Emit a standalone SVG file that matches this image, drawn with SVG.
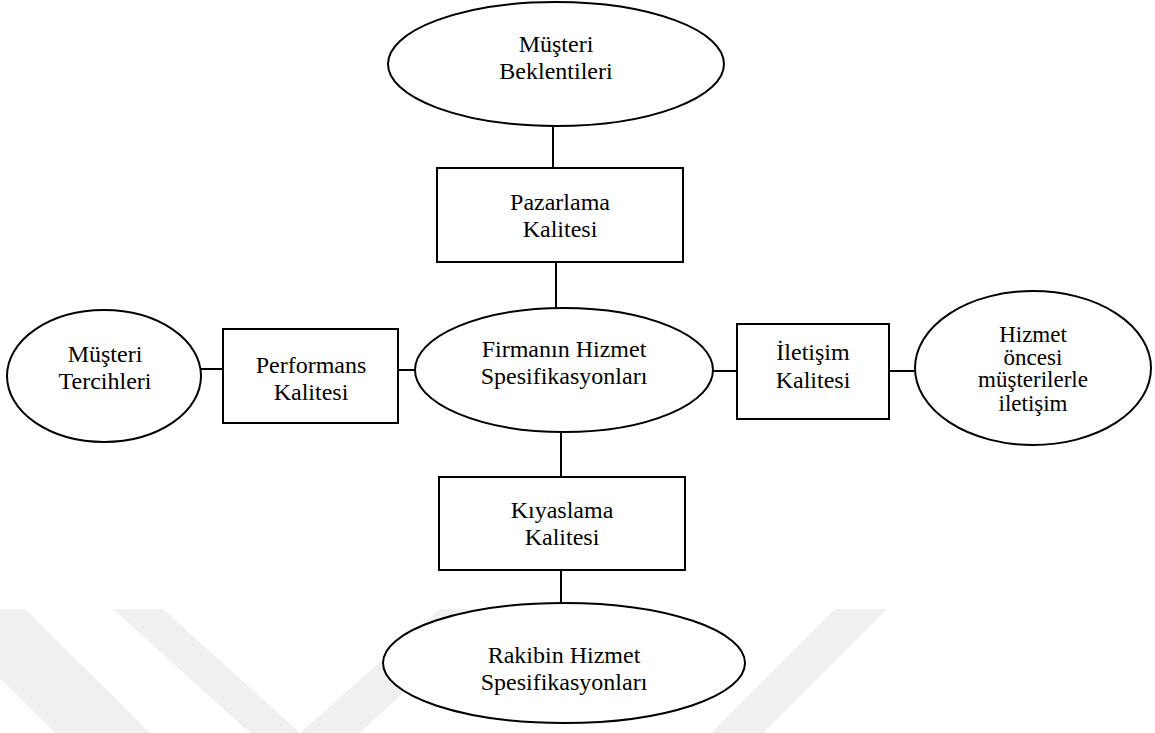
<svg xmlns="http://www.w3.org/2000/svg" width="1155" height="733" viewBox="0 0 1155 733">
  <style>
    .shape { fill: #ffffff; stroke: #000000; stroke-width: 2; }
    .link { stroke: #000000; stroke-width: 2; fill: none; }
    .label { font-family: "Liberation Serif", "Times New Roman", serif; font-size: 24px; fill: #000000; text-anchor: middle; }
    .tight { font-size: 23px; }
    .band { fill: #f0f0f0; stroke: none; }
  </style>

  <rect x="0" y="0" width="1155" height="733" fill="#ffffff"/>

  <!-- faint background bands -->
  <g id="background">
    <polygon class="band" points="-70,609 25,609 150,733 55,733"/>
    <polygon class="band" points="113,609 163,609 300,733 250,733"/>
    <polygon class="band" points="440,609 492,609 360,733 300,733"/>
    <polygon class="band" points="835,609 887,609 763,733 711,733"/>
  </g>

  <!-- connectors -->
  <g id="connectors">
    <line class="link" x1="553" y1="126" x2="553" y2="168"/>
    <line class="link" x1="556" y1="262" x2="556" y2="308"/>
    <line class="link" x1="200" y1="369" x2="223" y2="369"/>
    <line class="link" x1="398" y1="370" x2="415" y2="370"/>
    <line class="link" x1="713" y1="371" x2="737" y2="371"/>
    <line class="link" x1="889" y1="371" x2="915" y2="371"/>
    <line class="link" x1="561" y1="432" x2="561" y2="477"/>
    <line class="link" x1="561" y1="570" x2="561" y2="603"/>
  </g>

  <g id="musteri-beklentileri">
    <ellipse class="shape" cx="556" cy="64" rx="168" ry="62"/>
    <text class="label" x="556" y="52">Müşteri</text>
    <text class="label" x="556" y="79">Beklentileri</text>
  </g>

  <g id="pazarlama-kalitesi">
    <rect class="shape" x="437" y="168" width="246" height="94"/>
    <text class="label" x="560" y="210">Pazarlama</text>
    <text class="label" x="560" y="237">Kalitesi</text>
  </g>

  <g id="firma-hizmet">
    <ellipse class="shape" cx="564" cy="370" rx="149" ry="62"/>
    <text class="label" x="564" y="357">Firmanın Hizmet</text>
    <text class="label" x="564" y="384">Spesifikasyonları</text>
  </g>

  <g id="musteri-tercihleri">
    <ellipse class="shape" cx="104" cy="376" rx="97" ry="66"/>
    <text class="label" x="105" y="362">Müşteri</text>
    <text class="label" x="105" y="389">Tercihleri</text>
  </g>

  <g id="performans-kalitesi">
    <rect class="shape" x="223" y="329" width="175" height="94"/>
    <text class="label" x="311" y="373">Performans</text>
    <text class="label" x="311" y="400">Kalitesi</text>
  </g>

  <g id="iletisim-kalitesi">
    <rect class="shape" x="737" y="324" width="152" height="95"/>
    <text class="label" x="813" y="360">İletişim</text>
    <text class="label" x="813" y="388">Kalitesi</text>
  </g>

  <g id="hizmet-oncesi">
    <ellipse class="shape" cx="1033" cy="368" rx="118" ry="77"/>
    <text class="label tight" x="1033" y="342">Hizmet</text>
    <text class="label tight" x="1033" y="364.5">öncesi</text>
    <text class="label tight" x="1033" y="387">müşterilerle</text>
    <text class="label tight" x="1033" y="411">iletişim</text>
  </g>

  <g id="kiyaslama-kalitesi">
    <rect class="shape" x="439" y="477" width="246" height="93"/>
    <text class="label" x="562" y="518">Kıyaslama</text>
    <text class="label" x="562" y="545">Kalitesi</text>
  </g>

  <g id="rakip-hizmet">
    <ellipse class="shape" cx="564" cy="663" rx="181" ry="60"/>
    <text class="label" x="564" y="663">Rakibin Hizmet</text>
    <text class="label" x="564" y="690">Spesifikasyonları</text>
  </g>
</svg>
